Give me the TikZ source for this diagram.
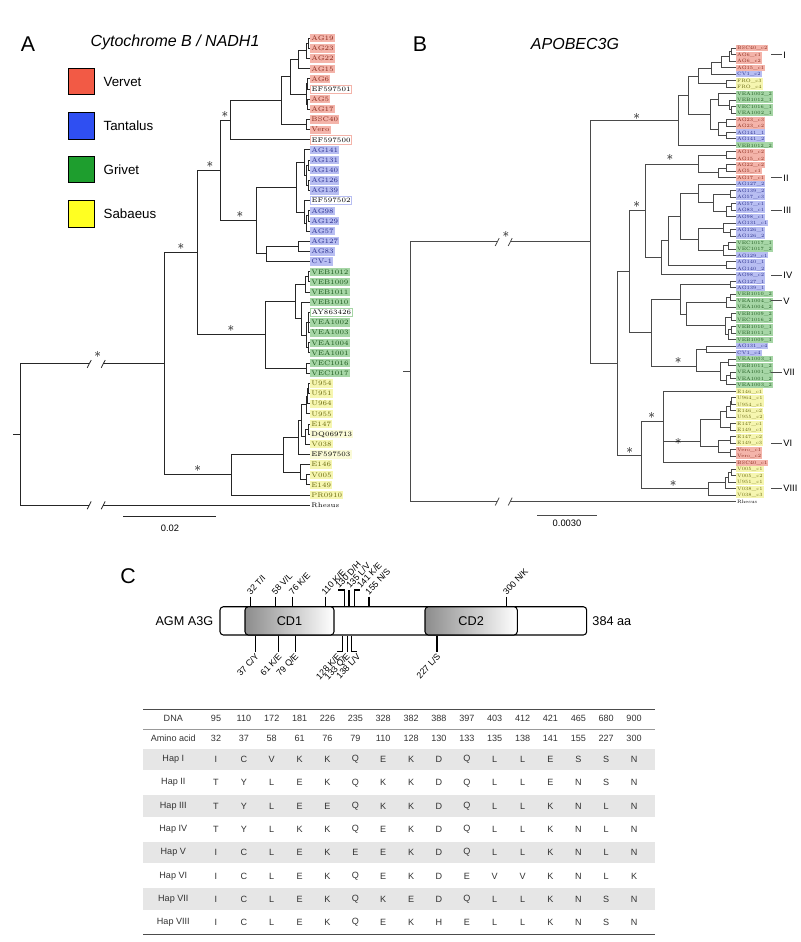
\documentclass[tikz,border=0pt]{standalone}
\usepackage{fontspec}
\setsansfont{Liberation Sans}
\usetikzlibrary{calc}
\definecolor{redbg}{HTML}{F4B4AA}
\definecolor{redtx}{HTML}{8A2A1C}
\definecolor{bluebg}{HTML}{B8BEF2}
\definecolor{bluetx}{HTML}{2A2F8C}
\definecolor{greenbg}{HTML}{A6D6A6}
\definecolor{greentx}{HTML}{1E5A1E}
\definecolor{yelbg}{HTML}{F6F6B0}
\definecolor{yeltx}{HTML}{6A6A10}
\definecolor{vervet}{HTML}{F25A45}
\definecolor{tantalus}{HTML}{2F4FF2}
\definecolor{grivet}{HTML}{1E9E2E}
\definecolor{sabaeus}{HTML}{FFFF22}
\definecolor{band}{HTML}{E6E6E6}
\definecolor{tabtx}{HTML}{333333}
\definecolor{lineB}{HTML}{4A4A4A}
\tikzset{
 br/.style={draw=black!85, line width=0.75pt},
 brb/.style={draw=lineB, line width=0.7pt},
 lf/.style={anchor=west, font=\fontsize{5}{5}\selectfont, inner xsep=0.9pt, inner ysep=0pt, minimum height=6.2pt, text height=3.5pt, text depth=0.1pt},
 rd/.style={lf, fill=redbg, text=redtx},
 rdw/.style={lf, fill=white, draw=redbg, line width=0.6pt, text=black},
 bl/.style={lf, fill=bluebg, text=bluetx},
 blw/.style={lf, fill=white, draw=bluebg, line width=0.6pt, text=black},
 gr/.style={lf, fill=greenbg, text=greentx},
 grw/.style={lf, fill=white, draw=greenbg, line width=0.6pt, text=black},
 yl/.style={lf, fill=yelbg, text=yeltx},
 ylw/.style={lf, fill=yelbg!50, text=black},
 pl/.style={lf, text=black},
 lfb/.style={anchor=west, font=\fontsize{3.6}{3.6}\selectfont, inner xsep=0.7pt, inner ysep=0pt, minimum height=4.5pt, text height=2.6pt, text depth=0.1pt},
 rdb/.style={lfb, fill=redbg, text=redtx},
 blb/.style={lfb, fill=bluebg, text=bluetx},
 grb/.style={lfb, fill=greenbg, text=greentx},
 ylb/.style={lfb, fill=yelbg, text=yeltx},
 plb/.style={lfb, text=black},
 ast/.style={font=\fontsize{10}{10}\selectfont, inner sep=0pt},
 panel/.style={font=\sffamily\fontsize{16}{16}\selectfont, inner sep=0pt},
 ttl/.style={font=\sffamily\itshape\fontsize{12}{12}\selectfont, inner sep=0pt},
 leg/.style={draw=black, line width=0.8pt, minimum size=20pt, inner sep=0pt},
 legt/.style={font=\sffamily\fontsize{10}{10}\selectfont, anchor=west, inner sep=0pt},
 sbar/.style={font=\sffamily\fontsize{7}{7}\selectfont, inner sep=0pt},
 tick/.style={draw=black, line width=0.8pt},
 tup/.style={rotate=47, anchor=west, font=\sffamily\fontsize{6.6}{6.6}\selectfont, inner sep=0.2pt},
 tdn/.style={rotate=47, anchor=east, font=\sffamily\fontsize{6.6}{6.6}\selectfont, inner sep=0.2pt},
 dom/.style={draw=black, line width=0.8pt, rounded corners=2.5pt, inner sep=0pt, font=\sffamily\fontsize{9.5}{9.5}\selectfont},
 cell/.style={font=\sffamily\fontsize{6.8}{6.8}\selectfont, text=tabtx, inner sep=0pt},
 roman/.style={font=\sffamily\fontsize{7}{7}\selectfont, anchor=west, inner sep=0.8pt},
}
\newcommand\lfA[3]{\node[#2] (A#1) at (310,{38.3+10.15*(#1-1)}) {#3};}
\newcommand\inA[3]{\coordinate (#1) at (#2,{38.3+10.15*(#3-1)});}
\newcommand\edA[2]{\draw[br] (#1) |- (#2);}
\newcommand\lfB[3]{\node[#2] (B#1) at (736,{30+(55+19.42*(#1-1))/3}) {#3};}
\newcommand\inR[3]{\coordinate (#1) at ({630+(#2)/3},{30+(55+19.42*(#3-1))/3});}
\newcommand\edB[2]{\draw[brb] (#1) |- (#2);}
\begin{document}
\begin{tikzpicture}[x=0.75pt,y=-0.75pt]
\useasboundingbox (0,0) rectangle (800,942);
% ---------------- Panel A ----------------
\node[panel] (pA) at (28,44) {A};
\node[ttl] (tA) at (175,42) {Cytochrome B / NADH1};
\node[leg, fill=vervet] (lv) at (81.5,81.5) {};
\node[leg, fill=tantalus] (lt) at (81.5,126) {};
\node[leg, fill=grivet] (lg) at (81.5,169.5) {};
\node[leg, fill=sabaeus] (ls) at (81.5,214) {};
\node[legt] at ($(lv.east)+(8,0)$) {Vervet};
\node[legt] at ($(lt.east)+(8,0)$) {Tantalus};
\node[legt] at ($(lg.east)+(8,0)$) {Grivet};
\node[legt] at ($(ls.east)+(8,0)$) {Sabaeus};
% leaves
\lfA{1}{rd}{AG19}
\lfA{2}{rd}{AG23}
\lfA{3}{rd}{AG22}
\lfA{4}{rd}{AG15}
\lfA{5}{rd}{AG6}
\lfA{6}{rdw}{EF597501}
\lfA{7}{rd}{AG5}
\lfA{8}{rd}{AG17}
\lfA{9}{rd}{BSC40}
\lfA{10}{rd}{Vero}
\lfA{11}{rdw}{EF597500}
\lfA{12}{bl}{AG141}
\lfA{13}{bl}{AG131}
\lfA{14}{bl}{AG140}
\lfA{15}{bl}{AG126}
\lfA{16}{bl}{AG139}
\lfA{17}{blw}{EF597502}
\lfA{18}{bl}{AG98}
\lfA{19}{bl}{AG129}
\lfA{20}{bl}{AG57}
\lfA{21}{bl}{AG127}
\lfA{22}{bl}{AG83}
\lfA{23}{bl}{CV-1}
\lfA{24}{gr}{VEB1012}
\lfA{25}{gr}{VEB1009}
\lfA{26}{gr}{VEB1011}
\lfA{27}{gr}{VEB1010}
\lfA{28}{grw}{AY863426}
\lfA{29}{gr}{VEA1002}
\lfA{30}{gr}{VEA1003}
\lfA{31}{gr}{VEA1004}
\lfA{32}{gr}{VEA1001}
\lfA{33}{gr}{VEC1016}
\lfA{34}{gr}{VEC1017}
\lfA{35}{yl}{U954}
\lfA{36}{yl}{U951}
\lfA{37}{yl}{U964}
\lfA{38}{yl}{U955}
\lfA{39}{yl}{E147}
\lfA{40}{ylw}{DQ069713}
\lfA{41}{yl}{V038}
\lfA{42}{ylw}{EF597503}
\lfA{43}{yl}{E146}
\lfA{44}{yl}{V005}
\lfA{45}{yl}{E149}
\lfA{46}{yl}{PR0910}
\lfA{47}{pl}{Rhesus}
% internal nodes
\inA{r12}{308}{1.5}
\inA{r123}{306}{2.25}
\inA{r1234}{298.3}{3.125}
\inA{r56}{307.7}{5.5}
\inA{r78}{307.7}{7.5}
\inA{r58}{306}{6.5}
\inA{r18}{290}{4.8125}
\inA{r910}{306.7}{9.5}
\inA{r110}{281.7}{7.15625}
\inA{rred}{230}{9.078125}
\inA{b1314}{308}{13.5}
\inA{b1516}{308}{15.5}
\inA{b1316}{306}{14.5}
\inA{b1216}{304}{13.25}
\inA{b1819}{308}{18.5}
\inA{b1820}{306}{19.25}
\inA{b1720}{304}{18.125}
\inA{b1220}{296.7}{15.6875}
\inA{b2122}{298.3}{21.5}
\inA{b2123}{266}{22.25}
\inA{bblue}{256}{18.96875}
\inA{rb}{220}{14.0234}
\inA{g2425}{308.3}{24.5}
\inA{g2426}{305}{25.25}
\inA{g2830}{308.3}{29}
\inA{g3132}{308.3}{31.5}
\inA{g2832}{306.7}{30.25}
\inA{g2732}{301.7}{28.625}
\inA{g2432}{295}{26.9375}
\inA{g3334}{306.7}{33.5}
\inA{ggreen}{265.7}{30.21875}
\inA{rbg}{197.7}{22.121}
\inA{y3536}{308}{35.5}
\inA{y3537}{307}{36.25}
\inA{y3538}{306}{37.125}
\inA{y3940}{308.5}{39.5}
\inA{y3941}{305}{40.25}
\inA{y3541}{301.7}{38.6875}
\inA{y3542}{298.3}{40.34375}
\inA{y4445}{306}{44.5}
\inA{y4345}{300}{43.75}
\inA{y3545}{283.3}{42.046875}
\inA{yyel}{231}{44.0234}
\inA{ing}{164.3}{33.072}
\inA{rootA}{20}{40.036}
% edges
\edA{r12}{A1.west}\edA{r12}{A2.west}
\edA{r123}{r12}\edA{r123}{A3.west}
\edA{r1234}{r123}\edA{r1234}{A4.west}
\edA{r56}{A5.west}\edA{r56}{A6.west}
\edA{r78}{A7.west}\edA{r78}{A8.west}
\edA{r58}{r56}\edA{r58}{r78}
\edA{r18}{r1234}\edA{r18}{r58}
\edA{r910}{A9.west}\edA{r910}{A10.west}
\edA{r110}{r18}\edA{r110}{r910}
\edA{rred}{r110}\edA{rred}{A11.west}
\edA{b1314}{A13.west}\edA{b1314}{A14.west}
\edA{b1516}{A15.west}\edA{b1516}{A16.west}
\edA{b1316}{b1314}\edA{b1316}{b1516}
\edA{b1216}{A12.west}\edA{b1216}{b1316}
\edA{b1819}{A18.west}\edA{b1819}{A19.west}
\edA{b1820}{b1819}\edA{b1820}{A20.west}
\edA{b1720}{A17.west}\edA{b1720}{b1820}
\edA{b1220}{b1216}\edA{b1220}{b1720}
\edA{b2122}{A21.west}\edA{b2122}{A22.west}
\edA{b2123}{b2122}\edA{b2123}{A23.west}
\edA{bblue}{b1220}\edA{bblue}{b2123}
\edA{rb}{rred}\edA{rb}{bblue}
\edA{g2425}{A24.west}\edA{g2425}{A25.west}
\edA{g2426}{g2425}\edA{g2426}{A26.west}
\edA{g2830}{A28.west}\edA{g2830}{A29.west}\edA{g2830}{A30.west}
\edA{g3132}{A31.west}\edA{g3132}{A32.west}
\edA{g2832}{g2830}\edA{g2832}{g3132}
\edA{g2732}{A27.west}\edA{g2732}{g2832}
\edA{g2432}{g2426}\edA{g2432}{g2732}
\edA{g3334}{A33.west}\edA{g3334}{A34.west}
\edA{ggreen}{g2432}\edA{ggreen}{g3334}
\edA{rbg}{rb}\edA{rbg}{ggreen}
\edA{y3536}{A35.west}\edA{y3536}{A36.west}
\edA{y3537}{y3536}\edA{y3537}{A37.west}
\edA{y3538}{y3537}\edA{y3538}{A38.west}
\edA{y3940}{A39.west}\edA{y3940}{A40.west}
\edA{y3941}{y3940}\edA{y3941}{A41.west}
\edA{y3541}{y3538}\edA{y3541}{y3941}
\edA{y3542}{y3541}\edA{y3542}{A42.west}
\edA{y4445}{A44.west}\edA{y4445}{A45.west}
\edA{y4345}{A43.west}\edA{y4345}{y4445}
\edA{y3545}{y3542}\edA{y3545}{y4345}
\edA{yyel}{y3545}\edA{yyel}{A46.west}
\edA{ing}{rbg}\edA{ing}{yyel}
% root with broken branches
\coordinate (kA1) at ($(rootA |- ing)+(69,0)$);
\coordinate (kA2) at ($(rootA |- ing)+(83,0)$);
\coordinate (kA3) at ($(rootA |- A47.west)+(69,0)$);
\coordinate (kA4) at ($(rootA |- A47.west)+(83,0)$);
\draw[br] (rootA) |- (kA1);
\draw[br] (kA2) -- (ing);
\draw[br] (rootA) |- (kA3);
\draw[br] (kA4) -- (A47.west);
\draw[br] (rootA) -- ++(-6.7,0);
\foreach \k in {kA1,kA2,kA3,kA4} \draw[br, line width=0.6pt] ($(\k)+(-1.8,4)$) -- ($(\k)+(2.2,-3.8)$);
% asterisks
\node[ast] (sA1) at (225,117) {*};
\node[ast] (sA2) at (210,166) {*};
\node[ast] (sA3) at (240,216) {*};
\node[ast] (sA4) at (181,248) {*};
\node[ast] (sA5) at (231,330) {*};
\node[ast] (sA6) at (97.7,356) {*};
\node[ast] (sA7) at (197.7,470) {*};
% scale bar
\coordinate (sbA1) at (123.3,516.7);
\coordinate (sbA2) at (216,516.7);
\draw[br] (sbA1) -- (sbA2);
\node[sbar] (sbAt) at (170,528) {0.02};
% ---------------- Panel B ----------------
\node[panel] (pB) at (420,44) {B};
\node[ttl] (tB) at (575,44) {APOBEC3G};
\lfB{1}{rdb}{BSC40\_c2}
\lfB{2}{rdb}{AG6\_c1}
\lfB{3}{rdb}{AG6\_c2}
\lfB{4}{rdb}{AG15\_c1}
\lfB{5}{blb}{CV1\_c2}
\lfB{6}{ylb}{FRO\_c3}
\lfB{7}{ylb}{FRO\_c4}
\lfB{8}{grb}{VEA1002\_2}
\lfB{9}{grb}{VEB1012\_1}
\lfB{10}{grb}{VEC1016\_1}
\lfB{11}{grb}{VEA1002\_1}
\lfB{12}{rdb}{AG23\_c3}
\lfB{13}{rdb}{AG23\_c2}
\lfB{14}{blb}{AG141\_1}
\lfB{15}{blb}{AG141\_2}
\lfB{16}{grb}{VEB1012\_2}
\lfB{17}{rdb}{AG19\_c2}
\lfB{18}{rdb}{AG15\_c2}
\lfB{19}{rdb}{AG22\_c2}
\lfB{20}{rdb}{AG5\_c1}
\lfB{21}{rdb}{AG17\_c1}
\lfB{22}{blb}{AG127\_2}
\lfB{23}{blb}{AG139\_2}
\lfB{24}{blb}{AG57\_c3}
\lfB{25}{blb}{AG57\_c1}
\lfB{26}{blb}{AG83\_c1}
\lfB{27}{blb}{AG98\_c1}
\lfB{28}{blb}{AG131\_c1}
\lfB{29}{blb}{AG126\_1}
\lfB{30}{blb}{AG126\_2}
\lfB{31}{grb}{VEC1017\_1}
\lfB{32}{grb}{VEC1017\_2}
\lfB{33}{blb}{AG129\_c1}
\lfB{34}{blb}{AG140\_1}
\lfB{35}{blb}{AG140\_2}
\lfB{36}{blb}{AG98\_c2}
\lfB{37}{blb}{AG127\_1}
\lfB{38}{blb}{AG139\_1}
\lfB{39}{grb}{VEB1010\_2}
\lfB{40}{grb}{VEA1004\_1}
\lfB{41}{grb}{VEA1004\_2}
\lfB{42}{grb}{VEB1009\_2}
\lfB{43}{grb}{VEC1016\_2}
\lfB{44}{grb}{VEB1010\_1}
\lfB{45}{grb}{VEB1011\_1}
\lfB{46}{grb}{VEB1009\_1}
\lfB{47}{blb}{AG131\_c4}
\lfB{48}{blb}{CV1\_c4}
\lfB{49}{grb}{VEA1003\_1}
\lfB{50}{grb}{VEB1011\_2}
\lfB{51}{grb}{VEA1001\_1}
\lfB{52}{grb}{VEA1001\_2}
\lfB{53}{grb}{VEA1003\_2}
\lfB{54}{ylb}{E146\_c1}
\lfB{55}{ylb}{U964\_c1}
\lfB{56}{ylb}{U954\_c1}
\lfB{57}{ylb}{E146\_c2}
\lfB{58}{ylb}{U955\_c2}
\lfB{59}{ylb}{E147\_c1}
\lfB{60}{ylb}{E149\_c1}
\lfB{61}{ylb}{E147\_c2}
\lfB{62}{ylb}{E149\_c3}
\lfB{63}{rdb}{Vero\_c1}
\lfB{64}{rdb}{Vero\_c2}
\lfB{65}{rdb}{BSC40\_c1}
\lfB{66}{ylb}{V005\_c1}
\lfB{67}{ylb}{V005\_c2}
\lfB{68}{ylb}{U951\_c1}
\lfB{69}{ylb}{V038\_c1}
\lfB{70}{ylb}{V038\_c3}
\lfB{71}{plb}{Rhesus}
% internal nodes of B
\inR{a1}{305}{1.5}
\inR{a2}{298}{2.25}
\inR{a3}{275}{3.125}
\inR{a4}{245}{4.0625}
\inR{a5}{290}{6.5}
\inR{T1}{205}{5.28}
\inR{g1}{305}{10.5}
\inR{g2}{298}{9.75}
\inR{g3}{265}{8.875}
\inR{rp}{290}{12.5}
\inR{bp}{290}{14.5}
\inR{rbp}{265}{13.5}
\inR{T2}{240}{11.19}
\inR{BTs}{175}{8.23}
\inR{BT}{145}{12.12}
\inR{e1}{290}{17.5}
\inR{e2}{290}{19.5}
\inR{e3}{265}{20.25}
\inR{cII}{205}{18.875}
\inR{q1}{305}{25.5}
\inR{q2}{290}{26.25}
\inR{q3}{300}{23.5}
\inR{q4}{250}{24.875}
\inR{q5}{205}{23.44}
\inR{q6}{300}{29.5}
\inR{q7}{280}{28.75}
\inR{q8}{295}{31.5}
\inR{q9}{280}{32.25}
\inR{q10}{205}{30.5}
\inR{cIII}{150}{26.97}
\inR{q11p}{290}{34.5}
\inR{q11}{115}{30.73}
\inR{q12}{95}{33.37}
\inR{Pa}{45}{26.12}
\inR{ab}{300}{37.5}
\inR{h1}{300}{39.5}
\inR{h2}{290}{40.25}
\inR{h3}{305}{42.5}
\inR{h4}{305}{44.5}
\inR{h5}{295}{45.25}
\inR{h6}{285}{43.875}
\inR{h7}{170}{42.06}
\inR{Vn}{150}{39.78}
\inR{k0}{230}{47.5}
\inR{k1}{295}{49.5}
\inR{k2}{300}{51.5}
\inR{k3}{290}{52.25}
\inR{k4}{270}{50.875}
\inR{VIIn}{200}{50.1}
\inR{Pv}{65}{44.94}
\inR{P1}{-2}{35.53}
\inR{n1}{305}{55.5}
\inR{n2}{300}{56.25}
\inR{n3}{290}{57.125}
\inR{n4}{300}{59.5}
\inR{Sa}{270}{58.31}
\inR{n5}{300}{61.5}
\inR{n6}{300}{63.5}
\inR{Sb}{265}{62.5}
\inR{S}{210}{61.8}
\inR{VIn}{100}{58.7}
\inR{m1}{305}{66.5}
\inR{m2}{295}{67.25}
\inR{m3}{285}{68.125}
\inR{VIIIn}{235}{69.06}
\inR{P2}{35}{63.88}
\inR{BL}{-37}{49.7}
\inR{Bin}{-120}{30.91}
\inR{rootB}{-660}{50.96}
% edges of B
\edB{a1}{B1.west}\edB{a1}{B2.west}
\edB{a2}{a1}\edB{a2}{B3.west}
\edB{a3}{a2}\edB{a3}{B4.west}
\edB{a4}{a3}\edB{a4}{B5.west}
\edB{a5}{B6.west}\edB{a5}{B7.west}
\edB{T1}{a4}\edB{T1}{a5}
\edB{g1}{B10.west}\edB{g1}{B11.west}
\edB{g2}{B9.west}\edB{g2}{g1}
\edB{g3}{B8.west}\edB{g3}{g2}
\edB{rp}{B12.west}\edB{rp}{B13.west}
\edB{bp}{B14.west}\edB{bp}{B15.west}
\edB{rbp}{rp}\edB{rbp}{bp}
\edB{T2}{g3}\edB{T2}{rbp}
\edB{BTs}{T1}\edB{BTs}{T2}
\edB{BT}{BTs}\edB{BT}{B16.west}
\edB{e1}{B17.west}\edB{e1}{B18.west}
\edB{e2}{B19.west}\edB{e2}{B20.west}
\edB{e3}{e2}\edB{e3}{B21.west}
\edB{cII}{e1}\edB{cII}{e3}
\edB{q1}{B25.west}\edB{q1}{B26.west}
\edB{q2}{q1}\edB{q2}{B27.west}
\edB{q3}{B23.west}\edB{q3}{B24.west}
\edB{q4}{q3}\edB{q4}{q2}
\edB{q5}{B22.west}\edB{q5}{q4}
\edB{q6}{B29.west}\edB{q6}{B30.west}
\edB{q7}{B28.west}\edB{q7}{q6}
\edB{q8}{B31.west}\edB{q8}{B32.west}
\edB{q9}{q8}\edB{q9}{B33.west}
\edB{q10}{q7}\edB{q10}{q9}
\edB{cIII}{q5}\edB{cIII}{q10}
\edB{q11p}{B34.west}\edB{q11p}{B35.west}
\edB{q11}{cIII}\edB{q11}{q11p}
\edB{q12}{q11}\edB{q12}{B36.west}
\edB{Pa}{cII}\edB{Pa}{q12}
\edB{ab}{B37.west}\edB{ab}{B38.west}
\edB{h1}{B39.west}\edB{h1}{B40.west}
\edB{h2}{h1}\edB{h2}{B41.west}
\edB{h3}{B42.west}\edB{h3}{B43.west}
\edB{h4}{B44.west}\edB{h4}{B45.west}
\edB{h5}{h4}\edB{h5}{B46.west}
\edB{h6}{h3}\edB{h6}{h5}
\edB{h7}{h2}\edB{h7}{h6}
\edB{Vn}{ab}\edB{Vn}{h7}
\edB{k0}{B47.west}\edB{k0}{B48.west}
\edB{k1}{B49.west}\edB{k1}{B50.west}
\edB{k2}{B51.west}\edB{k2}{B52.west}
\edB{k3}{k2}\edB{k3}{B53.west}
\edB{k4}{k1}\edB{k4}{k3}
\edB{VIIn}{k0}\edB{VIIn}{k4}
\edB{Pv}{Vn}\edB{Pv}{VIIn}
\edB{P1}{Pa}\edB{P1}{Pv}
\edB{n1}{B55.west}\edB{n1}{B56.west}
\edB{n2}{n1}\edB{n2}{B57.west}
\edB{n3}{n2}\edB{n3}{B58.west}
\edB{n4}{B59.west}\edB{n4}{B60.west}
\edB{Sa}{n3}\edB{Sa}{n4}
\edB{n5}{B61.west}\edB{n5}{B62.west}
\edB{n6}{B63.west}\edB{n6}{B64.west}
\edB{Sb}{n5}\edB{Sb}{n6}
\edB{S}{Sa}\edB{S}{Sb}
\edB{VIn}{B54.west}\edB{VIn}{S}\edB{VIn}{B65.west}
\edB{m1}{B66.west}\edB{m1}{B67.west}
\edB{m2}{m1}\edB{m2}{B68.west}
\edB{m3}{m2}\edB{m3}{B69.west}
\edB{VIIIn}{m3}\edB{VIIIn}{B70.west}
\edB{P2}{VIn}\edB{P2}{VIIIn}
\edB{BL}{P1}\edB{BL}{P2}
\edB{Bin}{BT}\edB{Bin}{BL}
\coordinate (kB1) at ($(rootB |- Bin)+(87,0)$);
\coordinate (kB2) at ($(rootB |- Bin)+(100,0)$);
\coordinate (kB3) at ($(rootB |- B71.west)+(87,0)$);
\coordinate (kB4) at ($(rootB |- B71.west)+(100,0)$);
\draw[brb] (rootB) |- (kB1);
\draw[brb] (kB2) -- (Bin);
\draw[brb] (rootB) |- (kB3);
\draw[brb] (kB4) -- (B71.west);
\draw[brb] (rootB) -- ++(-7,0);
\foreach \k in {kB1,kB2,kB3,kB4} \draw[brb, line width=0.6pt] ($(\k)+(-1.8,4)$) -- ($(\k)+(2.2,-3.8)$);
\node[ast] (sB1) at (636.7,118.3) {*};
\node[ast] (sB2) at (636.7,206) {*};
\node[ast] (sB3) at (506,236) {*};
\node[ast] (sB4) at (629.7,452) {*};
\node[ast] (sB5) at (670,159.5) {*};
\node[ast] (sB6) at (678.3,362) {*};
\node[ast] (sB7) at (651.7,417.5) {*};
\node[ast] (sB8) at (678.3,443.5) {*};
\node[ast] (sB9) at (673.3,485) {*};
\foreach \r/\t [count=\j] in {2/I,21/II,26/III,36/IV,40/V,51/VII,62/VI,69/VIII}{
  \coordinate (rm\j) at (771,{30+(55+19.42*(\r-1))/3});
  \draw[brb, line width=0.5pt] (rm\j) -- ++(11,0) node[roman] (rn\j) {\t};
}
\coordinate (sbB1) at (537,515);
\coordinate (sbB2) at (597,515);
\draw[brb] (sbB1) -- (sbB2);
\node[sbar] (sbBt) at (567,523) {0.0030};
% ---------------- Panel C ----------------
\node[panel] (pC) at (128,576) {C};
\node[dom, fill=white, minimum width=275pt, minimum height=21.2pt] (agm) at (403.35,620.85) {};
\node[dom, left color=black!45, right color=white, minimum width=66.75pt, minimum height=21.2pt] (cd1) at (289.5,620.85) {CD1};
\node[dom, left color=black!45, right color=white, minimum width=69.2pt, minimum height=21.2pt] (cd2) at (471.15,620.85) {CD2};
\node[font=\sffamily\fontsize{9.5}{9.5}\selectfont, anchor=east, inner sep=0pt] (agml) at ($(agm.west)+(-6,0)$) {AGM A3G};
\node[font=\sffamily\fontsize{9.5}{9.5}\selectfont, anchor=west, inner sep=0pt] (aal) at ($(agm.east)+(5,0)$) {384 aa};
% upper ticks
\foreach \n/\xx/\t in {u32/250.6/{32 T/I}, u58/275.4/{58 V/L}, u76/292.6/{76 K/E}, u110/325.1/{110 K/E}, u155/369/{155 N/S}, u300/506.7/{300 N/K}}{
  \coordinate (\n) at (\xx,596.7);
  \draw[tick] (\n) -- (\n |- agm.north);
  \node[tup] (\n l) at ($(\n)+(-2.5,-3)$) {\t};
}
\coordinate (u130) at (344.2,590);
\draw[tick] (u130 |- agm.north) -- (u130) -- ++(-6,0) coordinate (u130e);
\node[tup] (u130l) at ($(u130e)+(-1.5,-3)$) {130 D/H};
\coordinate (u135) at (349,590);
\draw[tick] (u135 |- agm.north) -- (u135);
\node[tup] (u135l) at ($(u135)+(-1.5,-3)$) {135 L/V};
\coordinate (u141) at (354.8,590);
\draw[tick] (u141 |- agm.north) -- (u141) -- ++(5,0) coordinate (u141e);
\node[tup] (u141l) at ($(u141e)+(-1.5,-3)$) {141 K/E};
% lower ticks
\foreach \n/\xx/\t in {d37/255.4/{37 C/Y}, d61/278.3/{61 K/E}, d79/295.5/{79 Q/E}, d227/437/{227 L/S}}{
  \coordinate (\n) at (\xx,651.7);
  \draw[tick] (\n |- agm.south) -- (\n);
  \node[tdn] (\n l) at ($(\n)+(2,3)$) {\t};
}
\coordinate (d128) at (342.3,651.7);
\draw[tick] (d128 |- agm.south) -- (d128) -- ++(-5,0) coordinate (d128e);
\node[tdn] (d128l) at ($(d128e)+(2,3)$) {128 K/E};
\coordinate (d133) at (347.1,651.7);
\draw[tick] (d133 |- agm.south) -- (d133);
\node[tdn] (d133l) at ($(d133)+(2,3)$) {133 Q/E};
\coordinate (d138) at (351.9,651.7);
\draw[tick] (d138 |- agm.south) -- (d138) -- ++(5,0) coordinate (d138e);
\node[tdn] (d138l) at ($(d138e)+(2,3)$) {138 L/V};
% table
\foreach \yy in {759.4,806.0,852.6,899.2} \fill[band] (143.3,\yy-10.8) rectangle (655,\yy+10.8);
\draw[draw=black!70, line width=0.7pt] (143.3,709.3) -- (655,709.3);
\draw[draw=black!40, line width=0.4pt] (143.3,729.3) -- (655,729.3);
\draw[draw=black!70, line width=0.7pt] (143.3,934) -- (655,934);
\foreach \yy/\row [count=\r] in {
718.5/{DNA,95,110,172,181,226,235,328,382,388,397,403,412,421,465,680,900},
738.5/{Amino acid,32,37,58,61,76,79,110,128,130,133,135,138,141,155,227,300},
759.4/{Hap I,I,C,V,K,K,Q,E,K,D,Q,L,L,E,S,S,N},
782.7/{Hap II,T,Y,L,E,K,Q,K,K,D,Q,L,L,E,N,S,N},
806.0/{Hap III,T,Y,L,E,E,Q,K,K,D,Q,L,L,K,N,L,N},
829.3/{Hap IV,T,Y,L,K,K,Q,E,K,D,Q,L,L,K,N,L,N},
852.6/{Hap V,I,C,L,E,K,E,E,K,D,Q,L,L,K,N,L,N},
875.9/{Hap VI,I,C,L,E,K,Q,E,K,D,E,V,V,K,N,L,K},
899.2/{Hap VII,I,C,L,E,K,Q,K,E,D,Q,L,L,K,N,S,N},
922.5/{Hap VIII,I,C,L,E,K,Q,E,K,H,E,L,L,K,N,S,N}}{
  \foreach \cc [count=\c] in \row {
    \pgfmathsetmacro\xx{\c==1 ? 173.3 : 216+27.87*(\c-2)}
    \node[cell] (t\r-\c) at (\xx,\yy) {\cc};
  }
}
\end{tikzpicture}
\end{document}
